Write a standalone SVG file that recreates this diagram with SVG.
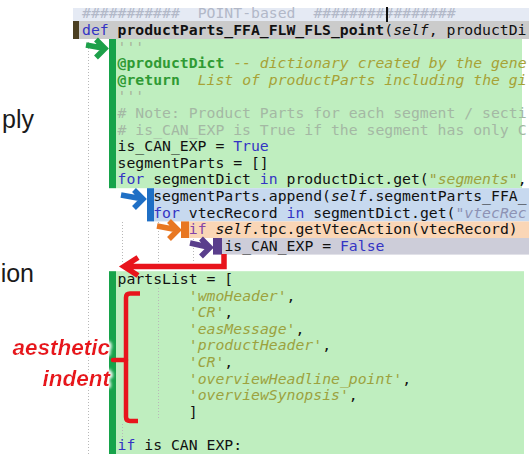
<svg xmlns="http://www.w3.org/2000/svg" width="529" height="454" viewBox="0 0 529 454">
  <style>
    .code { font-family: "DejaVu Sans Mono", "Liberation Mono", monospace; font-size: 14.78px; fill: #111; }
    .kw { fill: #3434c4; }
    .kwif { fill: #8444a8; }
    .b { font-weight: bold; }
    .i { font-style: italic; }
    .doc { fill: #a7b39a; }
    .tag { fill: #2f9a34; font-weight: bold; }
    .dtx { fill: #a7a236; font-style: italic; }
    .cm { fill: #a4b8a4; }
    .str { fill: #9ca23e; font-style: italic; }
    .str2 { fill: #8d92b4; font-style: italic; }
    .hdr { fill: #b2b8c8; }
    .guide { stroke: #b8b8b8; stroke-width: 1; stroke-dasharray: 1 2; fill: none; }
    .arrow { fill: none; stroke-width: 5.5; stroke-linecap: butt; stroke-linejoin: miter; }
    .slide { font-family: "Liberation Sans", Arial, sans-serif; font-size: 25px; fill: #1a1a1a; }
    .note { font-family: "Liberation Sans", Arial, sans-serif; font-size: 22.5px; font-weight: bold; font-style: italic; fill: #e8141c; }
  </style>
  <defs>
    <filter id="halo" x="-10%" y="-40%" width="120%" height="180%">
      <feMorphology in="SourceAlpha" operator="dilate" radius="2" result="grow"/>
      <feGaussianBlur in="grow" stdDeviation="1.6" result="soft"/>
      <feFlood flood-color="#ffffff"/>
      <feComposite in2="soft" operator="in" result="white"/>
      <feMerge>
        <feMergeNode in="white"/>
        <feMergeNode in="SourceGraphic"/>
      </feMerge>
    </filter>
  </defs>

  <rect width="529" height="454" fill="#ffffff"/>

  <!-- editor line highlights -->
  <g id="bands">
    <rect x="73" y="8" width="456" height="13" fill="#e5eaf4"/>
    <rect x="73" y="21" width="456" height="18" fill="#cbcbcb"/>
    <rect x="73" y="21" width="6" height="18" fill="#4b3f22"/>
    <rect x="116" y="39" width="406" height="149.2" fill="#bfeebf"/>
    <rect x="154" y="188.2" width="375" height="33.2" fill="#c7d9ef"/>
    <rect x="189" y="221.4" width="340" height="16.6" fill="#fad6b6"/>
    <rect x="222" y="238" width="307" height="16.6" fill="#cdcdd9"/>
    <rect x="116" y="271.2" width="408" height="182.8" fill="#bfeebf"/>
  </g>

  <!-- indentation guides -->
  <g id="guides">
    <line class="guide" x1="88.5" y1="42" x2="88.5" y2="454"/>
    <line class="guide" x1="122.5" y1="222" x2="122.5" y2="262"/>
    <line class="guide" x1="158.5" y1="222" x2="158.5" y2="262"/>
    <line class="guide" x1="193.5" y1="239" x2="193.5" y2="262"/>
    <line class="guide" x1="158.5" y1="288" x2="158.5" y2="420"/>
    <line class="guide" x1="122.5" y1="424" x2="122.5" y2="440"/>
  </g>

  <!-- block scope bars -->
  <g id="scope-bars">
    <rect id="bar-def" x="109" y="39" width="7" height="149.2" fill="#16a34a"/>
    <rect id="bar-for" x="147" y="188.2" width="7" height="33.2" fill="#1f6fc5"/>
    <rect id="bar-for2" x="181" y="221.4" width="8" height="16.6" fill="#e87722"/>
    <rect id="bar-if" x="213" y="238" width="9" height="16.6" fill="#5a3e8c"/>
    <rect id="bar-def2" x="109" y="271.2" width="7" height="182.8" fill="#16a34a"/>
  </g>

  <!-- source listing (8.9px per column; double spaces set by explicit x) -->
  <g id="code" class="code">
    <text y="18.4" class="hdr"><tspan x="82">###########</tspan><tspan x="197.7">POINT-based</tspan><tspan x="313.4">################</tspan></text>
    <text x="82" y="35"><tspan class="kw">def</tspan> <tspan class="b">productParts_FFA_FLW_FLS_point</tspan>(<tspan class="i">self</tspan>, productDi</text>
    <text x="117.6" y="51.6" class="doc">'''</text>
    <text x="117.6" y="68.2"><tspan class="tag">@productDict</tspan><tspan class="dtx"> -- dictionary created by the gene</tspan></text>
    <text y="84.8"><tspan x="117.6" class="tag">@return</tspan><tspan x="197.7" class="dtx">List of productParts including the gi</tspan></text>
    <text x="117.6" y="101.4" class="doc">'''</text>
    <text x="117.6" y="118" class="cm"># Note: Product Parts for each segment / secti</text>
    <text x="117.6" y="134.6" class="cm"># is_CAN_EXP is True if the segment has only C</text>
    <text x="117.6" y="151.2">is_CAN_EXP = <tspan class="kw">True</tspan></text>
    <text x="117.6" y="167.8">segmentParts = []</text>
    <text x="117.6" y="184.4"><tspan class="kw">for</tspan> segmentDict <tspan class="kw">in</tspan> productDict.get(<tspan class="str">"segments"</tspan>,</text>
    <text x="153.2" y="201">segmentParts.append(<tspan class="i">self</tspan>.segmentParts_FFA_</text>
    <text x="153.2" y="217.6"><tspan class="kw">for</tspan> vtecRecord <tspan class="kw">in</tspan> segmentDict.get(<tspan class="str2">"vtecRec</tspan></text>
    <text x="188.8" y="234.2"><tspan class="kwif">if</tspan> <tspan class="i">self</tspan>.tpc.getVtecAction(vtecRecord)</text>
    <text x="224.4" y="250.8">is_CAN_EXP = <tspan class="kw">False</tspan></text>
    <text x="117.6" y="284">partsList = [</text>
    <text x="188.8" y="300.6"><tspan class="str">'wmoHeader'</tspan>,</text>
    <text x="188.8" y="317.2"><tspan class="str">'CR'</tspan>,</text>
    <text x="188.8" y="333.8"><tspan class="str">'easMessage'</tspan>,</text>
    <text x="188.8" y="350.4"><tspan class="str">'productHeader'</tspan>,</text>
    <text x="188.8" y="367"><tspan class="str">'CR'</tspan>,</text>
    <text x="188.8" y="383.6"><tspan class="str">'overviewHeadline_point'</tspan>,</text>
    <text x="188.8" y="400.2"><tspan class="str">'overviewSynopsis'</tspan>,</text>
    <text x="188.8" y="416.8">]</text>
    <text x="117.6" y="450"><tspan class="kw">if</tspan> is CAN EXP:</text>
  </g>

  <!-- text cursor -->
  <rect id="cursor" x="386" y="7" width="2" height="15" fill="#111"/>

  <!-- scope arrows -->
  <g id="connectors">
    <path class="arrow" stroke="#1da04a" d="M86 45 L105 48.5 M96 39.5 L105 48.5 L96 57.5"/>
    <path class="arrow" stroke="#1f6fc5" d="M121 195 L143 199 M134 190 L143 199 L134 208"/>
    <path class="arrow" stroke="#e87722" d="M157 226 L178 230 M169 221 L178 230 L169 239"/>
    <path class="arrow" stroke="#5a3e8c" d="M190 243 L210 247.5 M201 238.5 L210 247.5 L201 256.5"/>
    <path class="arrow" stroke="#e8141c" stroke-width="5" d="M224 254 L224 266.5 L124 266.5 M138 257.5 L124 266.5 L138 275.5"/>
  </g>

  <!-- bracket around the list items -->
  <g id="bracket">
    <path d="M140 293.5 L130 293.5 Q126 293.5 126 297.5 L126 417 Q126 421 130 421 L138 421" fill="none" stroke="#e8141c" stroke-width="4.5"/>
    <path d="M126 360 L113 360" fill="none" stroke="#e8141c" stroke-width="4.5" stroke-linecap="round"/>
  </g>

  <!-- annotation -->
  <g id="label-aesthetic-indent" filter="url(#halo)">
    <text class="note" x="110" y="355" text-anchor="end">aesthetic</text>
    <text class="note" x="110" y="386" text-anchor="end">indent</text>
  </g>

  <!-- slide text at the left edge -->
  <g id="slide-text">
    <text class="slide" x="34" y="128" text-anchor="end">ply</text>
    <text class="slide" x="34" y="282" text-anchor="end">ion</text>
  </g>
</svg>
